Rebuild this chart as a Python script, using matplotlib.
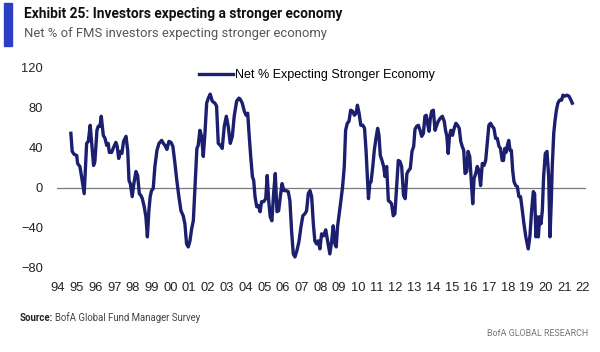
import matplotlib
matplotlib.use("Agg")
import matplotlib.pyplot as plt
from matplotlib.patches import Rectangle
from matplotlib.transforms import offset_copy

# Net % of FMS investors expecting a stronger economy
years = [
    1994.69, 1994.76, 1994.87, 1995.00, 1995.05, 1995.17, 1995.26, 1995.40, 1995.53, 1995.62,
    1995.72, 1995.83, 1995.90, 1995.97, 1996.08, 1996.15, 1996.24, 1996.31, 1996.42, 1996.51,
    1996.60, 1996.68, 1996.74, 1996.86, 1996.99, 1997.09, 1997.16, 1997.24, 1997.33, 1997.41,
    1997.50, 1997.63, 1997.72, 1997.79, 1997.86, 1997.96, 1998.05, 1998.16, 1998.25, 1998.34,
    1998.43, 1998.50, 1998.60, 1998.69, 1998.77, 1998.85, 1998.92, 1998.99, 1999.08, 1999.17,
    1999.28, 1999.39, 1999.53, 1999.62, 1999.71, 1999.81, 1999.92, 2000.03, 2000.13, 2000.24,
    2000.34, 2000.45, 2000.56, 2000.68, 2000.77, 2000.86, 2000.95, 2001.04, 2001.13, 2001.22,
    2001.31, 2001.41, 2001.48, 2001.57, 2001.66, 2001.75, 2001.84, 2001.93, 2002.02, 2002.12,
    2002.23, 2002.37, 2002.46, 2002.55, 2002.66, 2002.76, 2002.87, 2002.98, 2003.08, 2003.19,
    2003.30, 2003.40, 2003.53, 2003.65, 2003.72, 2003.83, 2003.94, 2004.03, 2004.12, 2004.19,
    2004.28, 2004.37, 2004.44, 2004.51, 2004.60, 2004.69, 2004.78, 2004.86, 2004.97, 2005.08,
    2005.16, 2005.24, 2005.32, 2005.41, 2005.50, 2005.59, 2005.68, 2005.77, 2005.86, 2005.95,
    2006.05, 2006.16, 2006.28, 2006.37, 2006.46, 2006.55, 2006.64, 2006.74, 2006.85, 2006.96,
    2007.06, 2007.17, 2007.26, 2007.35, 2007.44, 2007.53, 2007.62, 2007.70, 2007.79, 2007.88,
    2007.97, 2008.06, 2008.17, 2008.28, 2008.40, 2008.50, 2008.60, 2008.68, 2008.77, 2008.84,
    2008.91, 2009.00, 2009.09, 2009.18, 2009.27, 2009.34, 2009.43, 2009.52, 2009.61, 2009.71,
    2009.81, 2009.90, 2009.97, 2010.06, 2010.15, 2010.26, 2010.35, 2010.43, 2010.50, 2010.56,
    2010.63, 2010.70, 2010.79, 2010.87, 2010.96, 2011.05, 2011.12, 2011.19, 2011.28, 2011.37,
    2011.44, 2011.53, 2011.62, 2011.70, 2011.79, 2011.88, 2011.97, 2012.06, 2012.15, 2012.24,
    2012.33, 2012.43, 2012.52, 2012.61, 2012.70, 2012.79, 2012.88, 2012.97, 2013.04, 2013.13,
    2013.22, 2013.31, 2013.40, 2013.49, 2013.57, 2013.64, 2013.71, 2013.79, 2013.86, 2013.93,
    2014.02, 2014.11, 2014.20, 2014.28, 2014.39, 2014.50, 2014.60, 2014.67, 2014.74, 2014.81,
    2014.88, 2014.95, 2015.04, 2015.13, 2015.22, 2015.31, 2015.40, 2015.48, 2015.56, 2015.64,
    2015.71, 2015.80, 2015.87, 2015.96, 2016.04, 2016.12, 2016.19, 2016.28, 2016.36, 2016.45,
    2016.54, 2016.63, 2016.72, 2016.81, 2016.90, 2016.98, 2017.07, 2017.16, 2017.25, 2017.34,
    2017.43, 2017.52, 2017.60, 2017.69, 2017.76, 2017.83, 2017.90, 2017.97, 2018.04, 2018.11,
    2018.18, 2018.25, 2018.32, 2018.41, 2018.50, 2018.58, 2018.67, 2018.74, 2018.85, 2018.95,
    2019.08, 2019.17, 2019.26, 2019.35, 2019.42, 2019.49, 2019.55, 2019.62, 2019.69, 2019.76,
    2019.83, 2019.90, 2019.99, 2020.08, 2020.17, 2020.24, 2020.31, 2020.36, 2020.44, 2020.51,
    2020.58, 2020.66, 2020.75, 2020.86, 2020.93, 2021.04, 2021.14, 2021.25, 2021.36, 2021.43,
]
net_pct = [
    54, 36, 33, 32, 24, 21, 11, -6, 44, 46,
    62, 37, 22, 26, 57, 61, 61, 71, 52, 49,
    42, 44, 35, 35, 41, 45, 41, 29, 36, 34,
    46, 51, 37, 7, 4, -9, 4, 16, 12, -6,
    -8, -11, -19, -29, -49, -23, -9, -3, -1, 21,
    37, 44, 47, 44, 42, 38, 46, 45, 41, 24,
    7, -9, -23, -28, -36, -56, -59, -53, -41, -33,
    1, 39, 42, 57, 51, 31, 54, 84, 89, 93,
    86, 84, 81, 44, 42, 39, 61, 71, 61, 44,
    51, 71, 86, 89, 88, 84, 76, 72, 74, 54,
    31, 11, 7, -9, -19, -18, -24, -14, -14, -11,
    12, -13, -29, -33, -6, 14, -24, -23, -9, 4,
    -3, -3, -4, -13, -43, -66, -69, -63, -54, -39,
    -28, -26, -23, -6, -3, -9, -36, -53, -56, -53,
    -61, -46, -48, -42, -55, -66, -53, -38, -56, -59,
    -39, -26, -13, 1, 21, 57, 64, 66, 77, 76,
    72, 74, 82, 74, 62, 62, 59, 37, 11, -11,
    4, 6, 21, 37, 49, 59, 52, 32, 27, 21,
    11, 21, -13, -14, -16, -28, -26, 1, 27, 26,
    21, -8, -11, 14, 17, 19, 36, 41, 58, 61,
    62, 57, 51, 54, 71, 72, 64, 56, 69, 76,
    77, 57, 62, 66, 69, 71, 66, 57, 51, 34,
    51, 57, 52, 59, 64, 62, 59, 46, 41, 37,
    14, 16, 36, 31, 7, -16, 9, 14, 21, 17,
    2, 24, 22, 27, 46, 62, 64, 61, 59, 49,
    49, 41, 39, 27, 27, 39, 35, 42, 47, 37,
    37, 17, 6, 2, 1, -9, -9, -19, -36, -49,
    -61, -48, -23, -4, -6, -49, -29, -49, -29, -36,
    -23, 11, 34, 36, 11, -49, -13, 21, 54, 67,
    77, 84, 87, 87, 92, 91, 92, 91, 87, 84,
]

year_ticks = list(range(1994, 2023))
year_labels = [str(y)[2:] for y in year_ticks]
y_ticks = [-80, -40, 0, 40, 80, 120]

navy = "#1b1f6e"

fig = plt.figure(figsize=(6.0, 3.52), dpi=100)
ax = fig.add_axes([57 / 600, 1 - 268 / 352, 529 / 600, 201 / 352])

ax.axhline(0, color="#7a7a7a", linewidth=0.9, zorder=1)
ax.plot(years, net_pct, color=navy, linewidth=2.4, solid_joinstyle="round",
        label="Net % Expecting Stronger Economy", zorder=2)

ax.set_xlim(1993.95, 2022.16)
ax.set_ylim(-80, 120)
ax.set_xticks(year_ticks)
ax.set_xticklabels(year_labels)
ax.set_yticks(y_ticks)
ax.tick_params(length=0, labelsize=9.3, colors="#222222")
ax.tick_params(axis="x", pad=10)
ax.tick_params(axis="y", pad=10)
for lab in ax.get_xticklabels() + ax.get_yticklabels():
    lab.set_family("Liberation Sans")
for s in ax.spines.values():
    s.set_visible(False)

leg = ax.legend(loc="center left", bbox_to_anchor=(199 / 600, 1 - 75 / 352),
                bbox_transform=fig.transFigure, frameon=False, borderpad=0,
                borderaxespad=0, handlelength=2.7, handletextpad=0.15,
                prop={"family": "Liberation Sans", "size": 9.0})

# header bar and titles
fig.patches.append(Rectangle((4 / 600, 1 - 46 / 352), 8 / 600, 43 / 352,
                             transform=fig.transFigure, color="#2b3fc4"))
fig.text(24 / 600, 1 - 14 / 352, "Exhibit 25: Investors expecting a stronger economy",
         family="Roboto", weight="bold", fontsize=9.9, color="#111111", va="center")
fig.text(24 / 600, 1 - 34 / 352, "Net % of FMS investors expecting stronger economy",
         family="Roboto", fontsize=9.4, color="#555555", va="center")

# source line: bold label followed by regular text
src = fig.text(20 / 600, 1 - 318 / 352, "Source:", family="Roboto", weight="bold",
               fontsize=6.9, color="#222222", va="center")
fig.canvas.draw()
w = src.get_window_extent().width
fig.text(20 / 600, 1 - 318 / 352, "BofA Global Fund Manager Survey",
         transform=offset_copy(fig.transFigure, fig=fig, x=w + 2, y=0, units="dots"),
         family="Roboto", fontsize=6.9, color="#444444", va="center")
fig.text(588 / 600, 1 - 334 / 352, "BofA GLOBAL RESEARCH",
         family="Roboto", fontsize=6.4, color="#777777", va="center", ha="right")

fig.savefig("out.png", dpi=100)
